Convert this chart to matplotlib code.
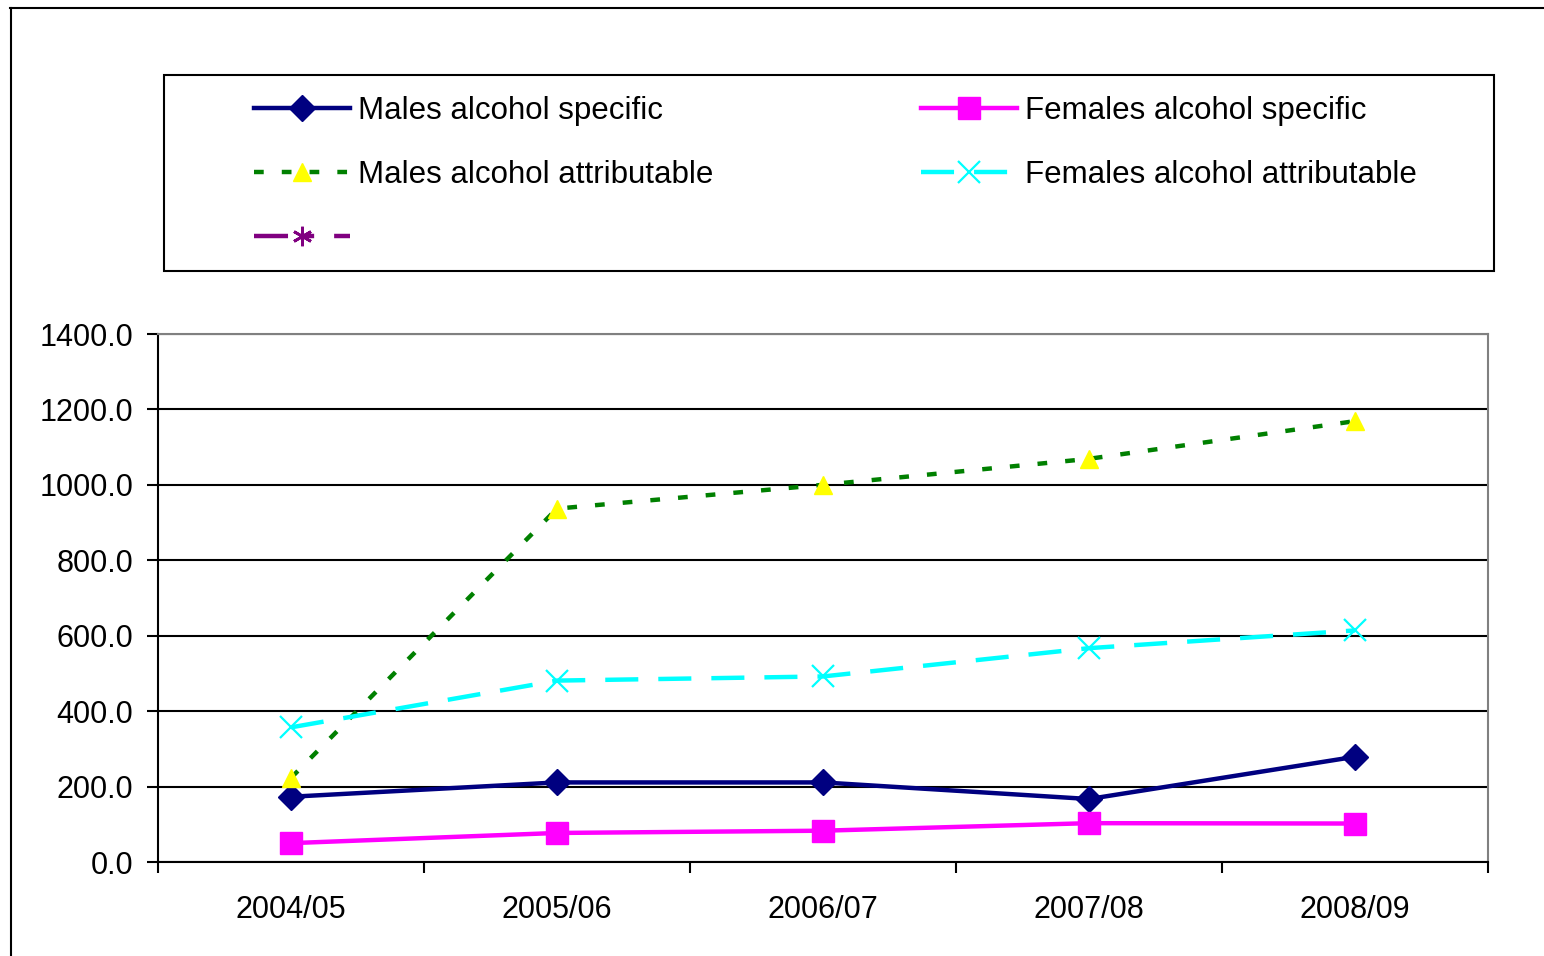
import matplotlib
matplotlib.use("Agg")
import matplotlib.pyplot as plt
from matplotlib.lines import Line2D
from matplotlib.patches import Rectangle

# Hospital admission rates by financial year
periods = ["2004/05", "2005/06", "2006/07", "2007/08", "2008/09"]
males_specific = [173, 211, 211, 167, 279]
females_specific = [50, 77, 83, 103, 102]
males_attributable = [223, 937, 1000, 1069, 1169]
females_attributable = [357, 481, 492, 567, 614]

series_labels = [
    "Males alcohol specific",
    "Females alcohol specific",
    "Males alcohol attributable",
    "Females alcohol attributable",
]

plt.rcParams["font.family"] = ["Liberation Sans", "DejaVu Sans"]
plt.rcParams["lines.scale_dashes"] = False

W, H = 1544, 956
fig = plt.figure(figsize=(W / 100, H / 100), dpi=100)
fig.patch.set_facecolor("white")


def fx(px):
    return px / W


def fy(py):
    return 1 - py / H


# outer chart frame (left and top edges)
fig.add_artist(Line2D([fx(10.5), fx(10.5)], [fy(8), fy(H + 5)],
                      transform=fig.transFigure, color="black", lw=1.5))
fig.add_artist(Line2D([fx(10), fx(W + 5)], [fy(8), fy(8)],
                      transform=fig.transFigure, color="black", lw=1.5))

ax = fig.add_axes([fx(158), fy(862), fx(1488) - fx(158), fy(334) - fy(862)])
ax.set_axisbelow(True)

x = list(range(len(periods)))
FS_TICK = 22
FS_LEG = 22.5
fs_px = FS_LEG * 100 / 72

l_ms, = ax.plot(x, males_specific, color="#000080", lw=3.2,
                marker="D", markersize=13, markerfacecolor="#000080",
                markeredgecolor="#000080", label=series_labels[0], zorder=3)
l_fs, = ax.plot(x, females_specific, color="#FF00FF", lw=3.2,
                marker="s", markersize=16.5, markerfacecolor="#FF00FF",
                markeredgecolor="#FF00FF", label=series_labels[1], zorder=3)
l_ma, = ax.plot(x, males_attributable, color="#008000", lw=3.2,
                linestyle=(0, (7, 13)),
                marker="^", markersize=12.5, markerfacecolor="#FFFF00",
                markeredgecolor="#FFFF00", label=series_labels[2], zorder=3)
l_fa, = ax.plot(x, females_attributable, color="#00FFFF", lw=3.2,
                linestyle=(0, (23.8, 14.4)),
                marker="x", markersize=16, markeredgewidth=1.6,
                markeredgecolor="#00FFFF", label=series_labels[3], zorder=3)
l_extra = Line2D([], [], color="#800080", lw=3.2,
                 linestyle=(0, (24.5, 9.4, 9.4, 14.4)),
                 marker=(6, 2, 0), markersize=14, markeredgewidth=2,
                 markeredgecolor="#800080", label=" ")

ax.set_xlim(-0.5, len(periods) - 0.5)
ax.set_ylim(0, 1400)
ax.set_yticks(range(0, 1401, 200))
ax.set_yticklabels([f"{v:.1f}" for v in range(0, 1401, 200)])
ax.set_xticks([i - 0.5 for i in range(len(periods) + 1)])
ax.set_xticklabels([])
ax.set_xticks(x, minor=True)
ax.set_xticklabels(periods, minor=True)

ax.tick_params(axis="y", which="major", direction="out", length=8, width=1.5,
               labelsize=FS_TICK, pad=10, colors="black")
ax.tick_params(axis="x", which="major", direction="out", length=8, width=1.5)
ax.tick_params(axis="x", which="minor", length=0, labelsize=FS_TICK, pad=24)

ax.yaxis.grid(True, color="black", lw=1.5)
for side in ("left", "bottom"):
    ax.spines[side].set_color("black")
    ax.spines[side].set_linewidth(1.5)
for side in ("right", "top"):
    ax.spines[side].set_color("#808080")
    ax.spines[side].set_linewidth(1.5)

# legend frame
fig.add_artist(Rectangle((fx(164), fy(270.5)), fx(1494) - fx(164), fy(75) - fy(270.5),
                         transform=fig.transFigure, fill=False,
                         edgecolor="black", lw=1.5))

leg = fig.legend(handles=[l_ms, l_ma, l_extra, l_fs, l_fa],
                 ncol=2, frameon=False, fontsize=FS_LEG,
                 loc="center left", bbox_to_anchor=(fx(254), fy(175)),
                 borderpad=0, borderaxespad=0,
                 handlelength=96 / fs_px, handletextpad=8 / fs_px,
                 columnspacing=208 / fs_px, labelspacing=1.09)

fig.savefig("out.png", dpi=100, facecolor="white")
